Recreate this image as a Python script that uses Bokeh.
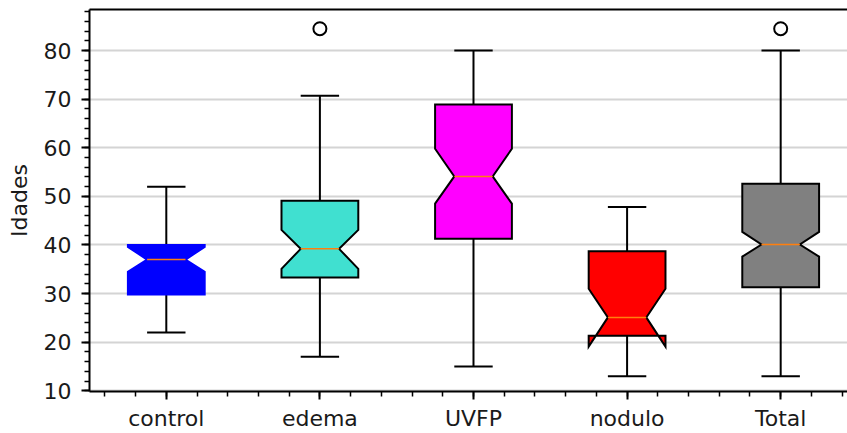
from bokeh.plotting import figure
from bokeh.models import Range1d, FixedTicker, SingleIntervalTicker, LinearAxis, ColumnDataSource
from bokeh.embed import file_html
from bokeh.resources import INLINE

# ---- data ----
categories = ["control", "edema", "UVFP", "nodulo", "Total"]
whisker_low = [22.0, 17.0, 15.0, 13.0, 13.0]
q1 = [29.8, 33.3, 41.3, 21.3, 31.3]
notch_low = [34.5, 35.1, 48.5, 19.1, 37.6]
median = [37.0, 39.2, 54.1, 25.1, 40.1]
notch_high = [39.6, 43.1, 59.8, 31.0, 42.7]
q3 = [40.0, 49.1, 68.9, 38.7, 52.6]
whisker_high = [52.0, 70.7, 80.0, 47.8, 80.0]
outlier_group = ["edema", "Total"]
outlier_value = [84.5, 84.5]
fill_colors = ["#0000ff", "#40e0d0", "#ff00ff", "#ff0000", "#808080"]
edge_colors = ["#0000ff", "#000000", "#000000", "#000000", "#000000"]
y_ticks = [10, 20, 30, 40, 50, 60, 70, 80]

BOX_W = 0.5
CAP_W = 0.25
FONT = "DejaVu Sans"
TEXT = "#1a1a1a"
FS = "22px"

pos = [i + 1 for i in range(len(categories))]

# notched box polygons (matplotlib-style path)
xs, ys = [], []
for p_, a, lo, m, hi, b in zip(pos, q1, notch_low, median, notch_high, q3):
    L, R = p_ - BOX_W / 2, p_ + BOX_W / 2
    cl, cr = p_ - CAP_W / 2, p_ + CAP_W / 2
    xs.append([L, R, R, cr, R, R, L, L, cl, L, L])
    ys.append([a, a, lo, m, hi, b, b, hi, m, lo, a])

box_src = ColumnDataSource(dict(xs=xs, ys=ys, fill=fill_colors, edge=edge_colors))
stat_src = ColumnDataSource(dict(
    x=pos, lo=whisker_low, q1=q1, med=median, q3=q3, hi=whisker_high,
    cl=[x - CAP_W / 2 for x in pos], cr=[x + CAP_W / 2 for x in pos],
))
out_src = ColumnDataSource(dict(
    x=[pos[categories.index(g)] for g in outlier_group], y=outlier_value))

p = figure(width=847, height=433, output_backend="svg", toolbar_location=None,
           x_range=Range1d(0.5, 5.435), y_range=Range1d(9.85, 88.45),
           min_border_left=89, min_border_right=0, min_border_top=9,
           min_border_bottom=42, background_fill_color="white",
           border_fill_color="white")
p.outline_line_color = None
p.xgrid.grid_line_color = None
p.ygrid.grid_line_color = "#d4d4d4"
p.ygrid.grid_line_width = 2
p.ygrid.ticker = FixedTicker(ticks=y_ticks)

# whiskers
p.segment(x0="x", y0="q1", x1="x", y1="lo", source=stat_src, line_color="black", line_width=2)
p.segment(x0="x", y0="q3", x1="x", y1="hi", source=stat_src, line_color="black", line_width=2)
# caps
p.segment(x0="cl", y0="lo", x1="cr", y1="lo", source=stat_src, line_color="black", line_width=2)
p.segment(x0="cl", y0="hi", x1="cr", y1="hi", source=stat_src, line_color="black", line_width=2)
# boxes
p.patches(xs="xs", ys="ys", source=box_src, fill_color="fill", line_color="edge",
          line_width=2, line_join="miter")
# medians
p.segment(x0="cl", y0="med", x1="cr", y1="med", source=stat_src, line_color="#ff7f0e", line_width=1.5)
# outliers
p.scatter(x="x", y="y", source=out_src, marker="circle", size=13, fill_color=None,
          line_color="black", line_width=2)

# axes
xa = p.xaxis[0]
xa.ticker = FixedTicker(ticks=pos, minor_ticks=[round(0.6 + 0.2 * i, 1) for i in range(25)])
xa.major_label_overrides = {x: c for x, c in zip(pos, categories)}
ya = p.yaxis[0]
ya.ticker = SingleIntervalTicker(interval=10, num_minor_ticks=5)
ya.axis_label = "Idades"
ya.axis_label_text_font_style = "normal"
ya.axis_label_text_font = FONT
ya.axis_label_text_font_size = FS
ya.axis_label_text_color = TEXT
ya.axis_label_standoff = 9

for ax in (xa, ya):
    ax.axis_line_color = "black"
    ax.axis_line_width = 2
    ax.major_tick_line_color = "black"
    ax.major_tick_line_width = 2
    ax.minor_tick_line_color = "black"
    ax.minor_tick_line_width = 1.5
    ax.major_tick_out = 8
    ax.major_tick_in = 0
    ax.minor_tick_out = 5
    ax.minor_tick_in = 0
    ax.major_label_text_font = FONT
    ax.major_label_text_font_size = FS
    ax.major_label_text_color = TEXT
xa.major_label_standoff = 6
ya.major_label_standoff = 10

# top spine
top = LinearAxis(ticker=FixedTicker(ticks=[]), axis_line_color="black", axis_line_width=2,
                 major_tick_out=0, major_tick_in=0, minor_tick_out=0, minor_tick_in=0,
                 major_label_standoff=0)
p.add_layout(top, "above")

open("out.html", "w").write(file_html(p, INLINE))
